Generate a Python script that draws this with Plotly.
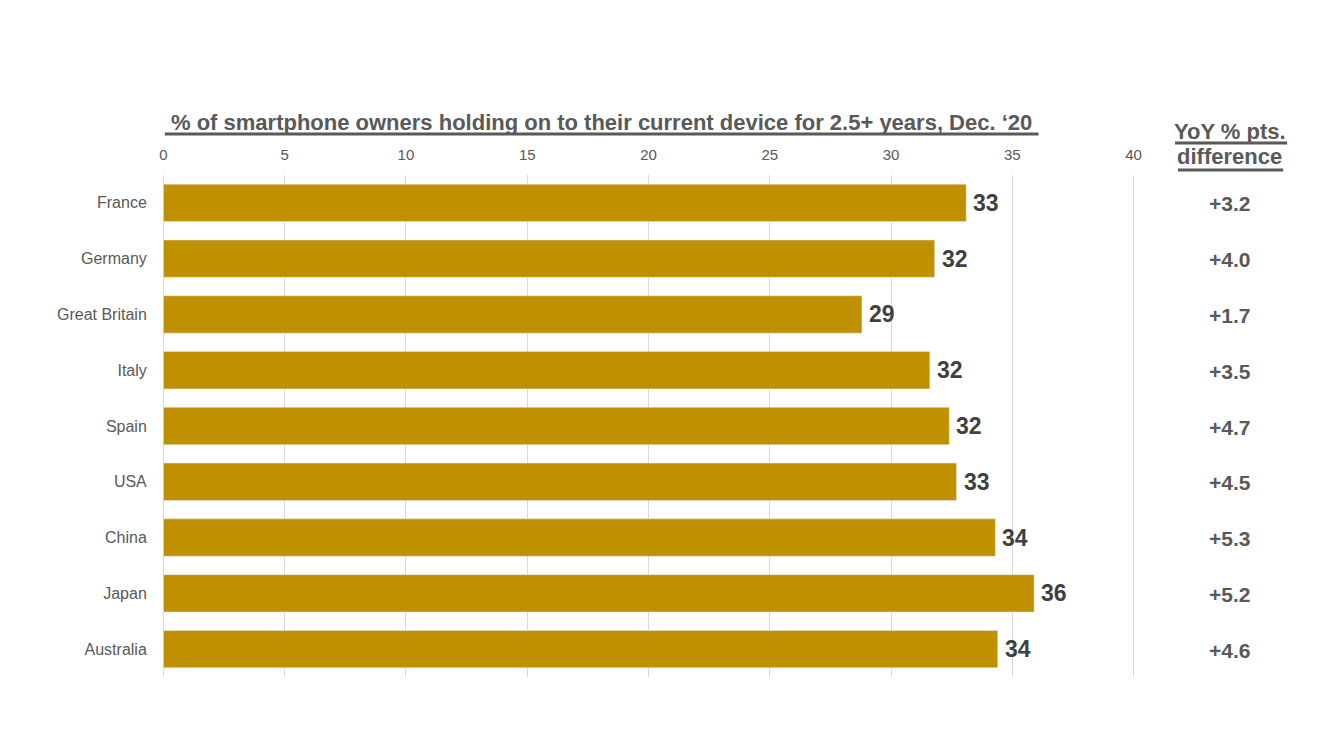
import plotly.graph_objects as go

countries = ["France", "Germany", "Great Britain", "Italy", "Spain", "USA", "China", "Japan", "Australia"]
share = [33.1, 31.8, 28.8, 31.6, 32.4, 32.7, 34.3, 35.9, 34.4]
yoy = ["+3.2", "+4.0", "+1.7", "+3.5", "+4.7", "+4.5", "+5.3", "+5.2", "+4.6"]
x_ticks = [0, 5, 10, 15, 20, 25, 30, 35, 40]

GOLD = "#BF9000"
GREY = "#595959"
DARK = "#404040"
FONT = "Liberation Sans, Arial, sans-serif"

fig = go.Figure()

fig.add_trace(
    go.Bar(
        x=share,
        y=countries,
        orientation="h",
        marker_color=GOLD,
        hoverinfo="skip",
    )
)

# value labels, a bit off the bar end
for c, v in zip(countries, share):
    fig.add_annotation(
        x=v, y=c, xanchor="left", xshift=5, showarrow=False,
        text="<b>%d</b>" % round(v),
        font=dict(size=23, color=DARK, family=FONT),
    )

# YoY column on the right
for c, v in zip(countries, yoy):
    fig.add_annotation(
        x=1.096, xref="paper", y=c, yref="y", xanchor="center", yshift=-1,
        text="<b>%s</b>" % v, showarrow=False,
        font=dict(size=21, color=GREY, family=FONT),
    )

fig.add_annotation(
    x=1.096, xref="paper", y=1.087, yref="paper", xanchor="center", yanchor="middle",
    text="<b>YoY % pts.</b>", showarrow=False,
    font=dict(size=22, color=GREY, family=FONT),
)
fig.add_annotation(
    x=1.096, xref="paper", y=1.036, yref="paper", xanchor="center", yanchor="middle",
    text="<b>difference</b>", showarrow=False,
    font=dict(size=22, color=GREY, family=FONT),
)

fig.add_annotation(
    x=0.452, xref="paper", y=1.104, yref="paper", xanchor="center", yanchor="middle",
    text="<b>% of smartphone owners holding on to their current device for 2.5+ years, Dec. \u201820</b>",
    showarrow=False,
    font=dict(size=22, color=GREY, family=FONT),
)

# underlines
for x0, x1, y in [(0.004, 0.900, 1.0817), (1.040, 1.155, 1.0637), (1.043, 1.151, 1.010)]:
    fig.add_shape(
        type="line", xref="paper", yref="paper",
        x0=x0, x1=x1, y0=y, y1=y,
        line=dict(color=GREY, width=3),
    )

fig.update_layout(
    width=1333,
    height=750,
    plot_bgcolor="white",
    paper_bgcolor="white",
    showlegend=False,
    bargap=0.33,
    margin=dict(l=153, r=205, t=167, b=81),
    font=dict(family=FONT, color=GREY),
)

fig.update_xaxes(
    side="top",
    range=[-0.1, 40.1],
    tickvals=x_ticks,
    showgrid=True,
    gridcolor="#D9D9D9",
    gridwidth=1,
    zeroline=False,
    showline=False,
    ticks="outside",
    ticklen=8,
    tickcolor="white",
    tickfont=dict(size=15, color=GREY),
)
fig.update_yaxes(
    autorange="reversed",
    showgrid=False,
    showline=False,
    ticks="outside",
    ticklen=10,
    tickcolor="white",
    tickfont=dict(size=16, color=GREY),
)

fig.write_html("out.html")
